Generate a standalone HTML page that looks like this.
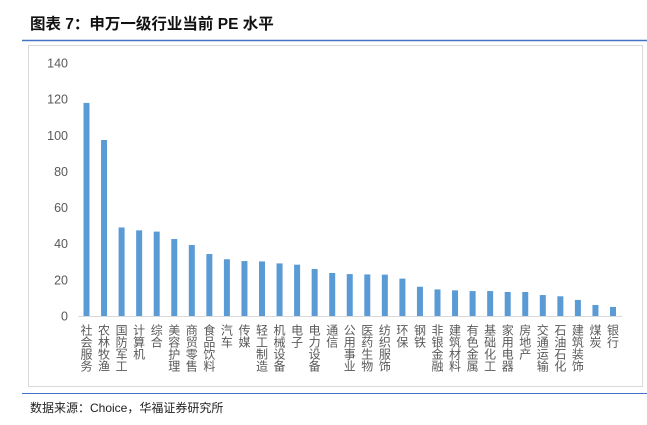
<!DOCTYPE html>
<html><head><meta charset="utf-8"><style>
body{margin:0;background:#fff;width:647px;height:420px;overflow:hidden;font-family:"Liberation Sans","Noto Sans CJK SC",sans-serif}
</style></head><body>
<svg width="647" height="420" xmlns="http://www.w3.org/2000/svg">
<text x="30" y="29" font-size="15.5" font-weight="bold" fill="#111" font-family="Liberation Sans,Noto Sans CJK SC,sans-serif">图表 7：申万一级行业当前 PE 水平</text>
<line x1="22" y1="40.5" x2="647" y2="40.5" stroke="#4472c4" stroke-width="1.5"/>
<rect x="28.5" y="45.5" width="614" height="341" fill="none" stroke="#d9d9d9"/>
<line x1="22" y1="393.5" x2="647" y2="393.5" stroke="#4472c4" stroke-width="1"/>
<text x="30" y="412" font-size="12" fill="#222">数据来源：Choice，华福证券研究所</text>
<g id="plot"></g>
</svg>
<script>
const categories=["社会服务","农林牧渔","国防军工","计算机","综合","美容护理","商贸零售","食品饮料","汽车","传媒","轻工制造","机械设备","电子","电力设备","通信","公用事业","医药生物","纺织服饰","环保","钢铁","非银金融","建筑材料","有色金属","基础化工","家用电器","房地产","交通运输","石油石化","建筑装饰","煤炭","银行"];
const peValues=[117.9,97.4,49,47.4,46.7,42.6,39.3,34.3,31.4,30.4,30.2,29.1,28.4,26,23.8,23.2,23,22.9,20.7,16.2,14.7,14.2,13.8,13.8,13.3,13.3,11.6,10.9,8.9,6.1,5];
const yTicks=[0,20,40,60,80,100,120,140];
const NS="http://www.w3.org/2000/svg";
const g=document.getElementById('plot');
const y0=316,yTop=63,yMax=140,xFirst=86.5,xLast=613;
const yScale=v=>y0-(v/yMax)*(y0-yTop);
const step=(xLast-xFirst)/(categories.length-1);
const xScale=i=>xFirst+i*step;
function mk(tag,attrs){const e=document.createElementNS(NS,tag);for(const k in attrs)e.setAttribute(k,attrs[k]);g.appendChild(e);return e;}
yTicks.forEach(t=>{
  const e=mk('text',{x:68,y:yScale(t)+4.5,'text-anchor':'end','font-size':12.5,fill:'#595959'});
  e.textContent=t;
  
  
});
const ax=mk('line',{x1:78,y1:y0+0.5,x2:622,y2:y0+0.5,stroke:'#d9d9d9','stroke-width':1});


categories.forEach((c,i)=>{
  const x=xScale(i),v=peValues[i];
  const b=mk('rect',{x:x-3,y:yScale(v),width:6,height:y0-yScale(v),fill:'#5b9bd5'});
  
  
  const t=mk('text',{x:x,y:324,'font-size':12,fill:'#595959',style:'writing-mode:vertical-rl;glyph-orientation-vertical:0','font-family':'Noto Sans CJK SC,sans-serif'});
  t.textContent=c;
  
  
});
</script>
</body></html>
